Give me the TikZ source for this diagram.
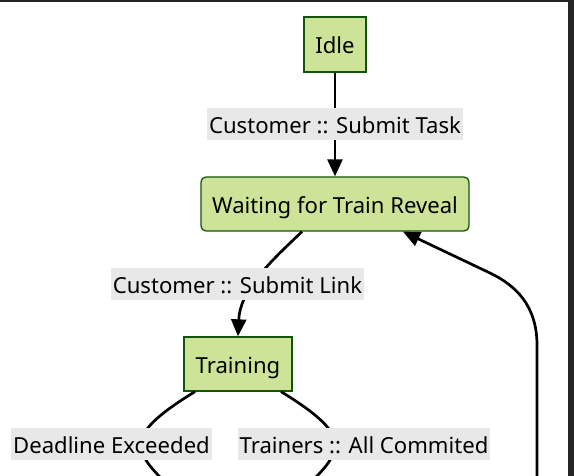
\documentclass[tikz,border=0pt]{standalone}
\usepackage{fontspec}
\setmainfont{Noto Sans}
\usetikzlibrary{arrows.meta}
\definecolor{stfill}{HTML}{CDE498}
\definecolor{stline}{HTML}{13540C}
\definecolor{lblbg}{HTML}{E8E8E8}
\definecolor{framecol}{HTML}{242424}
\tikzset{
  txt/.style={font=\fontsize{22.1}{26}\selectfont, text=black, text height=25pt, text depth=6pt},
  state/.style={txt, draw=stline, fill=stfill, line width=1.3pt, minimum height=54pt, inner xsep=11pt, inner ysep=0pt},
  rstate/.style={state, rounded corners=5pt},
  lbl/.style={txt, fill=lblbg, inner xsep=2pt, inner ysep=0pt, minimum height=32pt},
  trans/.style={line width=2.7pt, draw=black, -{Triangle[width=15pt,length=17pt]}},
  plainline/.style={line width=2.7pt, draw=black}
}
\begin{document}
\begin{tikzpicture}[x=1pt,y=-1pt]
\useasboundingbox (0,0) rectangle (574,476);
\clip (0,0) rectangle (574,476);
\fill[white] (0,0) rectangle (574,476);

% states
\node[state, minimum width=62pt, minimum height=55pt] (idle) at (335,44.5) {Idle};
\node[rstate, minimum width=268pt] (wait) at (335,204) {Waiting for Train Reveal};
\node[state, minimum width=108pt] (train) at (238,364) {Training};

% free ends below the visible area
\coordinate (endA) at (175,492);
\coordinate (endB) at (301,492);
\coordinate (endC) at (537,500);

% transitions
\draw[trans] (idle) -- node[lbl] (l1) {Customer :: Submit Task} (wait);
\draw[trans] ([xshift=-33pt]wait.south) .. controls (270,262) and (240,290) .. (train.north);
\draw[plainline] ([xshift=-43pt]train.south) .. controls (165,410) and (141,428) .. (141,444)
   .. controls (141,460) and (155,472) .. (endA);
\draw[plainline] ([xshift=43pt]train.south) .. controls (311,410) and (335,428) .. (335,444)
   .. controls (335,460) and (321,472) .. (endB);
\draw[trans] (endC) -- (537,345) .. controls (537,305) and (515,285) .. (490,273)
   -- ([xshift=68pt]wait.south);

% labels on curved transitions
\node[lbl] (l2) at (237.5,284) {Customer :: Submit Link};
\node[lbl] (l3) at (111.5,444) {Deadline Exceeded};
\node[lbl] (l4) at (364,444) {Trainers :: All Commited};

% window frame
\fill[framecol] (0,0) rectangle (574,2);
\fill[framecol] (568,0) rectangle (574,476);
\end{tikzpicture}
\end{document}
